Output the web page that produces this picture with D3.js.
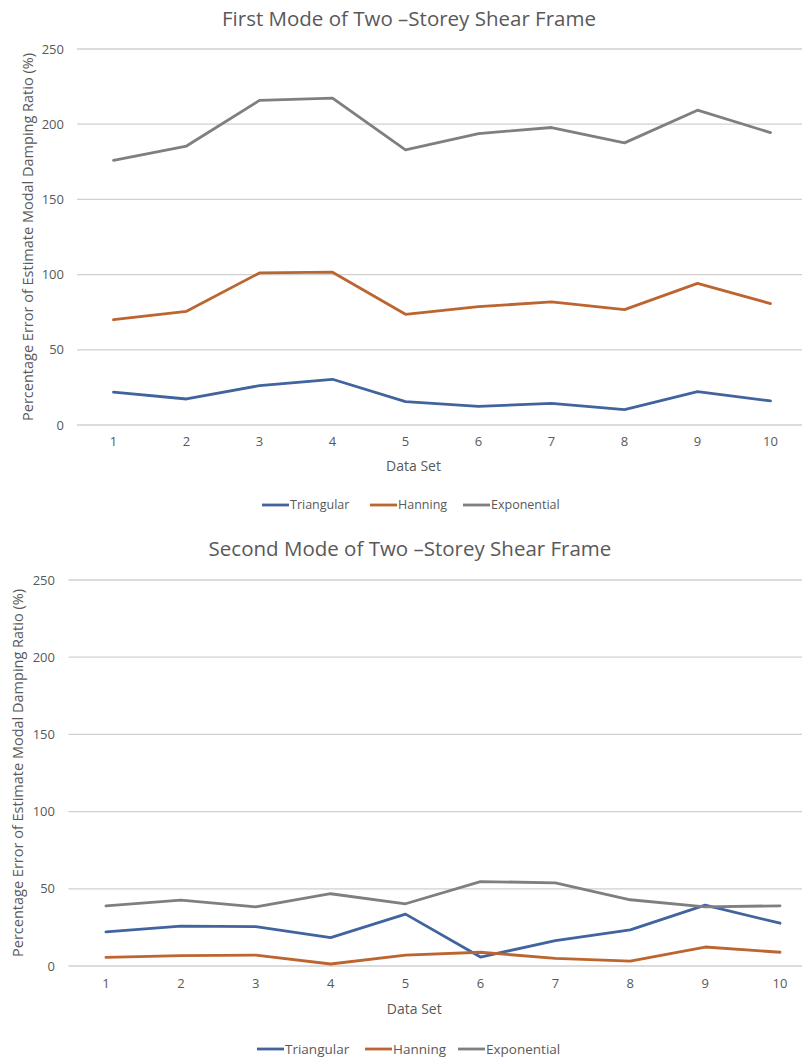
<!DOCTYPE html>
<html>
<head>
<meta charset="utf-8">
<script src="https://cdn.jsdelivr.net/npm/d3@7"></script>
<style>
  html, body { margin: 0; padding: 0; background: #fff; }
  svg { display: block; font-family: "Open Sans", "Noto Sans", sans-serif; }
</style>
</head>
<body>
<svg id="chart" width="802" height="1057"></svg>
<script>
// Data sets 1..10
const dataSets = ["1", "2", "3", "4", "5", "6", "7", "8", "9", "10"];
const yTicks = [0, 50, 100, 150, 200, 250];
const seriesNames = ["Triangular", "Hanning", "Exponential"];
const seriesColors = ["#41649e", "#bd6530", "#7f7f7f"];

// First mode: percentage error (%)
const mode1Triangular = [21.8, 17.3, 26.2, 30.4, 15.6, 12.4, 14.4, 10.2, 22.2, 16.0];
const mode1Hanning = [70.0, 75.6, 101.1, 101.6, 73.6, 78.7, 81.8, 76.7, 94.2, 80.7];
const mode1Exponential = [176.0, 185.5, 215.8, 217.3, 182.9, 193.8, 197.8, 187.6, 209.3, 194.4];

// Second mode: percentage error (%)
const mode2Triangular = [22.1, 25.8, 25.5, 18.4, 33.6, 5.8, 16.5, 23.4, 39.4, 27.7];
const mode2Hanning = [5.6, 6.7, 7.1, 1.3, 7.1, 8.9, 5.0, 3.2, 12.3, 8.9];
const mode2Exponential = [39.0, 42.7, 38.3, 46.8, 40.3, 54.7, 53.9, 42.9, 38.3, 39.0];

const svg = d3.select("#chart");
svg.append("rect").attr("width", 802).attr("height", 1057).attr("fill", "#fff");

const textColor = "#595959";

function drawChart(cfg) {
  const g = svg.append("g");
  const x = d3.scaleBand().domain(dataSets).range([cfg.x0, cfg.x1]);
  const y = d3.scaleLinear().domain([0, 250]).range([cfg.yBottom, cfg.yTop]);

  // title
  g.append("text")
    .attr("x", cfg.titleX).attr("y", cfg.titleY)
    .attr("text-anchor", "middle")
    .attr("font-size", 20.5).attr("fill", textColor)
    .text(cfg.title);

  // gridlines
  g.append("g").selectAll("line").data(yTicks).join("line")
    .attr("x1", cfg.x0).attr("x2", cfg.x1)
    .attr("y1", d => y(d)).attr("y2", d => y(d))
    .attr("stroke", "#d0d0d0").attr("stroke-width", 1.3);

  // y tick labels
  const yAxis = d3.axisLeft(y).tickValues(yTicks).tickSize(0).tickPadding(0);
  const ya = g.append("g").attr("transform", `translate(${cfg.yLabelX},0)`).call(yAxis);
  ya.select(".domain").remove();
  ya.selectAll("text").attr("font-size", 13).attr("fill", textColor)
    .attr("font-family", "'Open Sans', sans-serif");

  // x tick labels
  const xAxis = d3.axisBottom(x).tickSize(0).tickPadding(0);
  const xa = g.append("g").attr("transform", `translate(0,${cfg.xLabelY})`).call(xAxis);
  xa.select(".domain").remove();
  xa.selectAll("text").attr("font-size", 13).attr("fill", textColor)
    .attr("font-family", "'Open Sans', sans-serif");

  // axis titles
  g.append("text")
    .attr("x", (cfg.x0 + 802) / 2 + cfg.xTitleShift).attr("y", cfg.xTitleY)
    .attr("text-anchor", "middle").attr("font-size", 14).attr("fill", textColor)
    .text("Data Set");
  g.append("text")
    .attr("transform", `translate(${cfg.yTitleX},${(cfg.yTop + cfg.yBottom) / 2}) rotate(-90)`)
    .attr("text-anchor", "middle").attr("font-size", 14.5).attr("fill", textColor)
    .text("Percentage Error of Estimate Modal Damping Ratio (%)");

  // series lines
  const line = d3.line()
    .x((d, i) => x(dataSets[i]) + x.bandwidth() / 2)
    .y(d => y(d));
  cfg.series.forEach((vals, k) => {
    g.append("path").datum(vals)
      .attr("d", line)
      .attr("fill", "none")
      .attr("stroke", seriesColors[k])
      .attr("stroke-width", 2.8)
      .attr("stroke-linejoin", "round")
      .attr("stroke-linecap", "round");
  });

  // legend
  const lg = g.append("g").attr("transform", `translate(0,${cfg.legendY})`);
  seriesNames.forEach((name, k) => {
    const lx = cfg.legendX[k];
    lg.append("line")
      .attr("x1", lx).attr("x2", lx + 27).attr("y1", 0).attr("y2", 0)
      .attr("stroke", seriesColors[k]).attr("stroke-width", 2.8);
    lg.append("text")
      .attr("x", lx + 28).attr("y", 0).attr("dy", "0.35em")
      .attr("font-size", cfg.legendFont).attr("fill", textColor)
      .text(name);
  });
}

drawChart({
  title: "First Mode of Two \u2013Storey Shear Frame",
  titleX: 409, titleY: 26,
  x0: 77, x1: 807,
  yTop: 49, yBottom: 425,
  yLabelX: 64,
  xLabelY: 437,
  xTitleY: 471, xTitleShift: -26,
  yTitleX: 33,
  legendY: 505, legendX: [262, 370, 463], legendFont: 12.5,
  series: [mode1Triangular, mode1Hanning, mode1Exponential]
});

drawChart({
  title: "Second Mode of Two \u2013Storey Shear Frame",
  titleX: 410, titleY: 556,
  x0: 68.5, x1: 817.5,
  yTop: 580, yBottom: 966,
  yLabelX: 55,
  xLabelY: 979,
  xTitleY: 1014, xTitleShift: -21,
  yTitleX: 23,
  legendY: 1049, legendX: [257, 365, 458], legendFont: 13.5,
  series: [mode2Triangular, mode2Hanning, mode2Exponential]
});
</script>
</body>
</html>
